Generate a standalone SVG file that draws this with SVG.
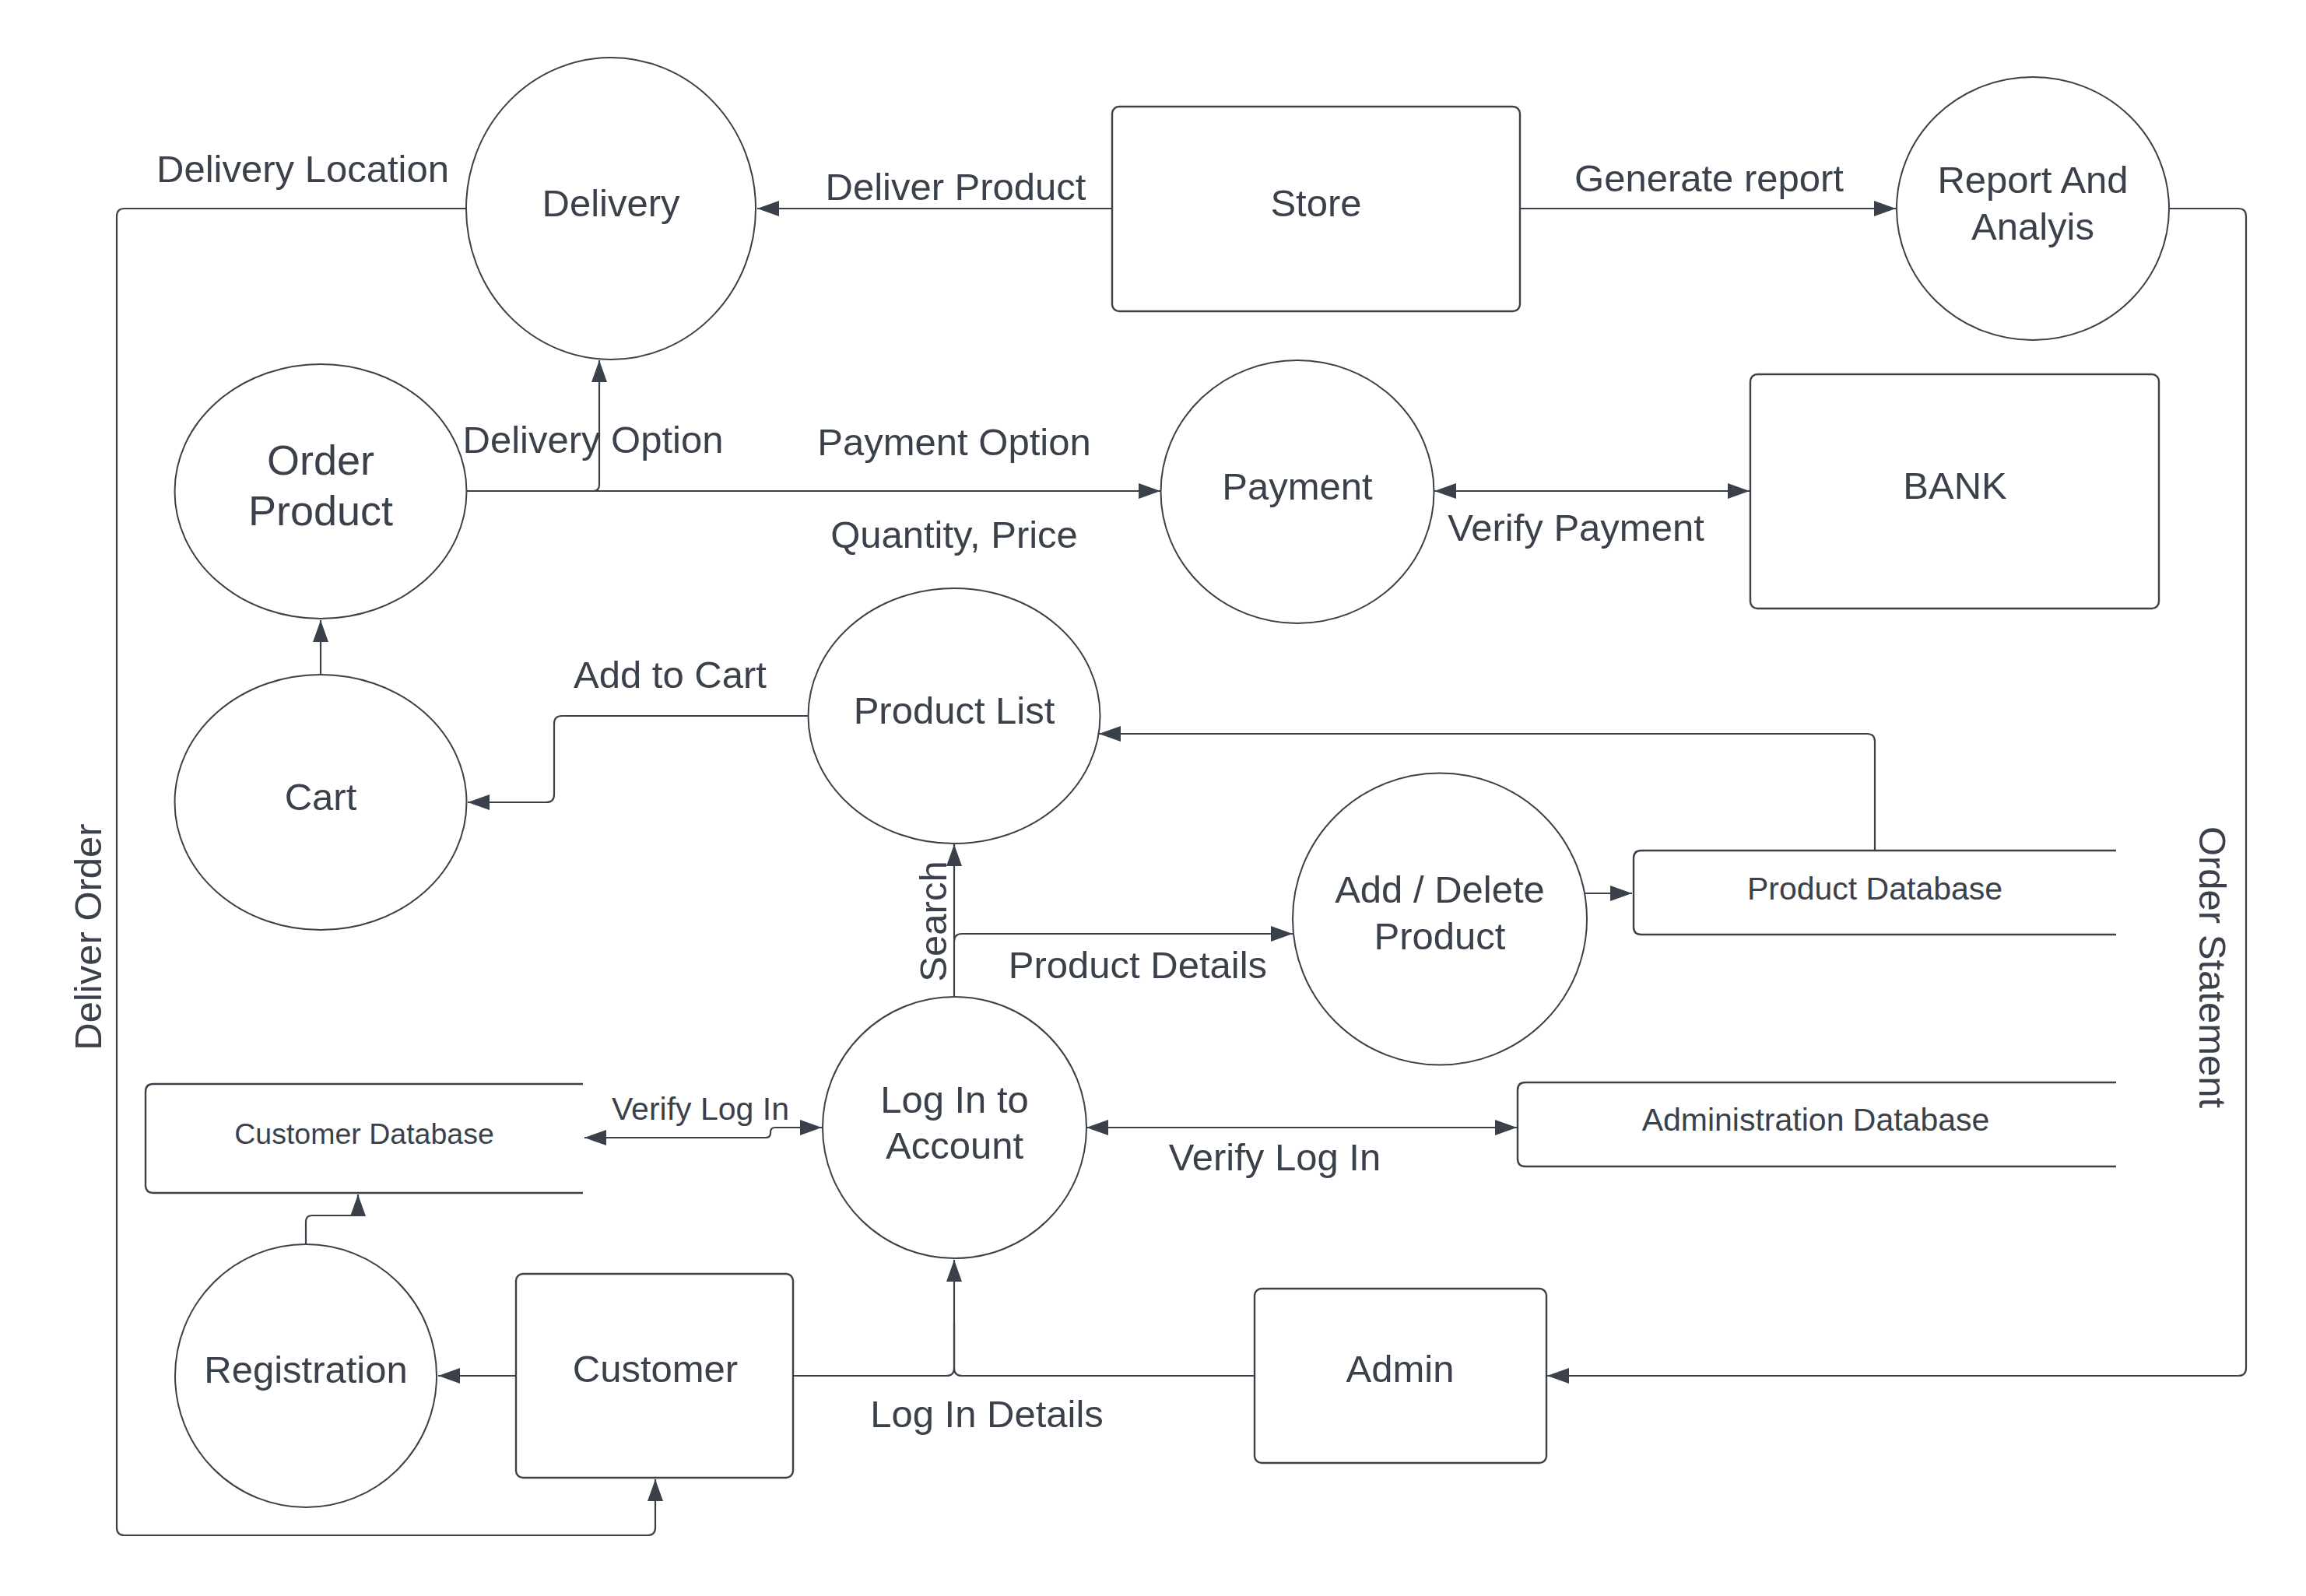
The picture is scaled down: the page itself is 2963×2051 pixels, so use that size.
<svg xmlns="http://www.w3.org/2000/svg" width="2963" height="2051" viewBox="0 0 2963 2051">
<style>
.n{fill:#ffffff;stroke:#3a414a;stroke-width:2}
.r{fill:#ffffff;stroke:#3a414a;stroke-width:2.4}
.ds{fill:#ffffff;stroke:#3a414a;stroke-width:2.4}
.c{fill:none;stroke:#3a414a;stroke-width:2.2}
text{font-family:"Liberation Sans",Arial,sans-serif;font-size:49px;fill:#3a414a;text-anchor:middle}
.db{font-size:41px}
.sm{font-size:37.5px}
.lg{font-size:54px}
</style>
<defs>
<marker id="ah" markerUnits="userSpaceOnUse" markerWidth="30" markerHeight="22" refX="28" refY="10" orient="auto-start-reverse">
<path d="M0,0 L28,10 L0,20 Z" fill="#3a414a"/>
</marker>
</defs>
<rect width="2963" height="2051" fill="#ffffff"/>
<g id="connectors">
<path class="c" d="M1429,268 H973" marker-end="url(#ah)"/>
<path class="c" d="M1953,268 H2436" marker-end="url(#ah)"/>
<path class="c" d="M2787,268 H2876 q10,0 10,10 V1758 q0,10 -10,10 H1988" marker-end="url(#ah)"/>
<path class="c" d="M599,268 H160 q-10,0 -10,10 V1963 q0,10 10,10 H832 q10,0 10,-10 V1901" marker-end="url(#ah)"/>
<path class="c" d="M599.5,631 H1491" marker-end="url(#ah)"/>
<path class="c" d="M599.5,631 H762 q8,0 8,-8 V463" marker-end="url(#ah)"/>
<path class="c" d="M1843,631 H2248" marker-start="url(#ah)" marker-end="url(#ah)"/>
<path class="c" d="M412,867 V797" marker-end="url(#ah)"/>
<path class="c" d="M1038,920 H722 q-10,0 -10,10 V1021 q0,10 -10,10 H601" marker-end="url(#ah)"/>
<path class="c" d="M2409,1093 V953 q0,-10 -10,-10 H1412" marker-end="url(#ah)"/>
<path class="c" d="M1226,1281 V1085" marker-end="url(#ah)"/>
<path class="c" d="M1226,1210 q0,-10 10,-10 H1661" marker-end="url(#ah)"/>
<path class="c" d="M2036,1148 H2097" marker-end="url(#ah)"/>
<path class="c" d="M1396,1449 H1949" marker-start="url(#ah)" marker-end="url(#ah)"/>
<path class="c" d="M751,1462 H984 q6,0 6,-6 V1455 q0,-6 6,-6 H1056" marker-start="url(#ah)" marker-end="url(#ah)"/>
<path class="c" d="M393,1599 V1570 q0,-8 8,-8 H460 V1535" marker-end="url(#ah)"/>
<path class="c" d="M663,1768 H563" marker-end="url(#ah)"/>
<path class="c" d="M1019,1768 H1216 q10,0 10,-10 V1619" marker-end="url(#ah)"/>
<path class="c" d="M1612,1768 H1236 q-10,0 -10,-10 V1700"/>
<text x="389" y="234">Delivery Location</text>
<text x="1228" y="257">Deliver Product</text>
<text x="2196" y="246">Generate report</text>
<text x="762" y="582">Delivery Option</text>
<text x="1226" y="585">Payment Option</text>
<text x="1226" y="704">Quantity, Price</text>
<text x="2025" y="695">Verify Payment</text>
<text x="861" y="884">Add to Cart</text>
<text transform="translate(1216,1184) rotate(-90)">Search</text>
<text x="1462" y="1257">Product Details</text>
<text x="900" y="1439" class="db">Verify Log In</text>
<text x="1638" y="1504">Verify Log In</text>
<text x="1268" y="1834">Log In Details</text>
<text transform="translate(130,1204) rotate(-90)">Deliver Order</text>
<text transform="translate(2826,1243) rotate(90)">Order Statement</text>
</g>
<g id="delivery"><ellipse class="n" cx="785" cy="268" rx="186" ry="194"/><text x="785" y="278">Delivery</text></g>
<g id="store"><rect class="r" x="1429" y="137" width="524" height="263" rx="9"/><text x="1691" y="278">Store</text></g>
<g id="report"><ellipse class="n" cx="2612" cy="268" rx="175" ry="169"/><text x="2612" y="248">Report And</text><text x="2612" y="308">Analyis</text></g>
<g id="order-product"><ellipse class="n" cx="412" cy="631.5" rx="187.5" ry="163.5"/><text x="412" y="610" class="lg">Order</text><text x="412" y="675" class="lg">Product</text></g>
<g id="payment"><ellipse class="n" cx="1667" cy="632" rx="175.5" ry="169"/><text x="1667" y="642">Payment</text></g>
<g id="bank"><rect class="r" x="2249" y="481" width="525" height="301" rx="9"/><text x="2512" y="641">BANK</text></g>
<g id="cart"><ellipse class="n" cx="412" cy="1031" rx="187.5" ry="164"/><text x="412" y="1041">Cart</text></g>
<g id="product-list"><ellipse class="n" cx="1226" cy="920" rx="187.5" ry="164"/><text x="1226" y="930">Product List</text></g>
<g id="add-delete"><ellipse class="n" cx="1850" cy="1181" rx="189" ry="187.5"/><text x="1850" y="1160">Add / Delete</text><text x="1850" y="1220">Product</text></g>
<g id="product-db"><path class="ds" d="M2719,1093 H2109 q-10,0 -10,10 V1191 q0,10 10,10 H2719"/><text x="2409" y="1156" class="db">Product Database</text></g>
<g id="admin-db"><path class="ds" d="M2719,1391 H1960 q-10,0 -10,10 V1489 q0,10 10,10 H2719"/><text x="2333" y="1453" class="db">Administration Database</text></g>
<g id="login"><ellipse class="n" cx="1226.5" cy="1449" rx="169.5" ry="168"/><text x="1226.5" y="1430">Log In to</text><text x="1226.5" y="1489">Account</text></g>
<g id="customer-db"><path class="ds" d="M749,1393 H197 q-10,0 -10,10 V1523 q0,10 10,10 H749"/><text x="468" y="1470" class="sm">Customer Database</text></g>
<g id="registration"><ellipse class="n" cx="393" cy="1768" rx="168" ry="169"/><text x="393" y="1777">Registration</text></g>
<g id="customer"><rect class="r" x="663" y="1637" width="356" height="262" rx="9"/><text x="842" y="1776">Customer</text></g>
<g id="admin"><rect class="r" x="1612" y="1656" width="375" height="224" rx="9"/><text x="1799" y="1776">Admin</text></g>
</svg>
